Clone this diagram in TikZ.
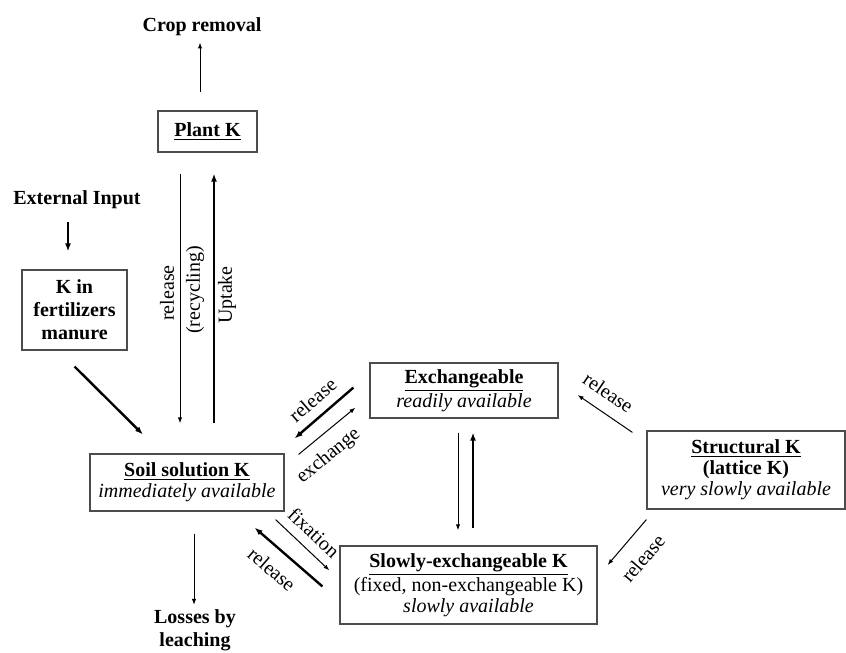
\documentclass[tikz,border=0pt]{standalone}
\usepackage{fontspec}
\setmainfont{Liberation Serif}
\usetikzlibrary{positioning,arrows.meta}

\begin{document}
\begin{tikzpicture}[x=0.5pt,y=-0.5pt,font=\fontsize{10}{10.5}\selectfont,
  kbox/.style={draw=black!70,line width=0.6pt,align=center,inner sep=0pt},
  btxt/.style={font=\fontsize{10}{11.5}\selectfont\bfseries,align=center,inner sep=1pt},
  lbl/.style={font=\fontsize{10}{10}\selectfont,inner sep=1pt},
  tarr/.style={line width=0.5pt,-{Latex[length=3pt,width=2.2pt]}},
  farr/.style={line width=1.2pt,-{Latex[length=4pt,width=3pt]}}]

  \useasboundingbox (0,0) rectangle (846,653);

  \node[btxt] (crop) at (202,27) {Crop removal};
  \node[kbox,minimum width=49.5pt,minimum height=20.5pt] (plant) at (207.5,131.5) {\textbf{\underline{Plant K}}};
  \node[btxt] (extin) at (77,200) {External Input};
  \node[kbox,font=\fontsize{10}{11.5}\selectfont\bfseries,minimum width=52.5pt,minimum height=40pt] (fert) at (74.5,310) {K in\\fertilizers\\manure};
  \node[kbox,minimum width=97pt,minimum height=28.5pt] (soil) at (187,482.5) {\textbf{\underline{Soil solution K}}\\\textit{immediately available}};
  \node[btxt] (loss) at (195,630) {Losses by\\leaching};
  \node[kbox,minimum width=94pt,minimum height=27.5pt] (exch) at (464,390.5) {\textbf{\underline{Exchangeable}}\\\textit{readily available}};
  \node[kbox,minimum width=128.5pt,minimum height=39pt] (slow) at (468.5,585) {\textbf{\underline{Slowly-exchangeable K}}\\(fixed, non-exchangeable K)\\\textit{slowly available}};
  \node[kbox,minimum width=99pt,minimum height=39pt] (struct) at (746,470) {\textbf{\underline{Structural K}}\\\textbf{(lattice K)}\\\textit{very slowly available}};

  \coordinate (cropx) at (200,0);
  \coordinate (inx) at (68,0);
  \coordinate (recx) at (180,0);
  \coordinate (upx) at (214,0);
  \coordinate (lossx) at (194,0);
  \coordinate (dnx) at (458,0);
  \coordinate (upxb) at (473,0);

  \draw[tarr,shorten <=9pt,shorten >=2pt] (plant.north -| cropx) -- (crop.south -| cropx);
  \draw[farr,shorten <=5.5pt,shorten >=9pt] (extin.south -| inx) -- (fert.north -| inx);
  \draw[farr,shorten <=11.3pt,shorten >=13.4pt] ([xshift=-8pt]fert.south) -- ([xshift=-12.5pt]soil.north);

  \draw[tarr,shorten <=10.5pt,shorten >=15pt] (plant.south -| recx) -- (soil.north -| recx);
  \draw[farr,shorten <=15pt,shorten >=10.5pt] (soil.north -| upx) -- (plant.south -| upx);
  \node[lbl,rotate=90] (lrel) at (167,293) {release};
  \node[lbl,rotate=90] (lrec) at (195,290) {(recycling)};
  \node[lbl,rotate=90] (lupt) at (227,295) {Uptake};

  \draw[tarr,shorten <=11pt,shorten >=1pt] (soil.south -| lossx) -- (loss.north -| lossx);

  \draw[farr] ([shift={(-16,-31)}]exch.south west) -- ([shift={(10,-15)}]soil.north east)
    node[lbl,midway,sloped,above=3.5pt] (lrelx) {release};
  \draw[tarr] ([shift={(14,1)}]soil.north east) -- ([shift={(-14,-11)}]exch.south west)
    node[lbl,pos=0.3,sloped,below=4.5pt] (lexc) {exchange};

  \draw[tarr] ([shift={(-9,8)}]soil.south east) -- ([shift={(-10,25)}]slow.north west)
    node[lbl,midway,sloped,above=3.5pt] (lfix) {fixation};
  \draw[farr] ([shift={(-17,41)}]slow.north west) -- ([shift={(-30,16)}]soil.south east)
    node[lbl,pos=0.55,sloped,below=5pt] (lrels) {release};

  \draw[tarr,shorten <=7pt,shorten >=7.5pt] (exch.south -| dnx) -- (slow.north -| dnx);
  \draw[farr,shorten <=8.5pt,shorten >=7pt] (slow.north -| upxb) -- (exch.south -| upxb);

  \draw[tarr] ([shift={(-14,2)}]struct.north west) -- ([shift={(19,4.5)}]exch.east)
    node[lbl,pos=0.64,sloped,above=5pt] (lrele) {release};
  \draw[tarr] ([shift={(0,10)}]struct.south west) -- ([shift={(10,-20)}]slow.east)
    node[lbl,pos=0.53,sloped,below=6.5pt] (lrelw) {release};
\end{tikzpicture}
\end{document}
